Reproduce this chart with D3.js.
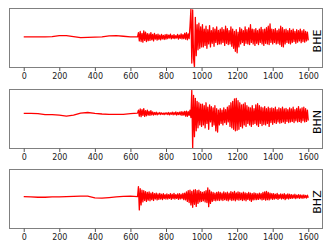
<!DOCTYPE html>
<html>
<head>
<meta charset="utf-8">
<script src="https://cdn.jsdelivr.net/npm/d3@7"></script>
<style>
    body { margin: 0; background: #fff; }
    text { font-family: "DejaVu Sans", sans-serif; }
</style>
</head>
<body>
<div id="chart"></div>
<script>
// channel names, one panel each
var channels = ["BHE", "BHN", "BHZ"];

// x axis ticks (seconds)
var xTicks = [0, 200, 400, 600, 800, 1000, 1200, 1400, 1600];

// sample times: sparse over the quiet part, every 5 s after the first arrival
var quietTimes = d3.range(0, 641, 40);
var noisyTimes = d3.range(645, 1601, 5);
var times = quietTimes.concat(noisyTimes);

// amplitudes, scaled so +-100 fills a panel
var bheQuiet = [4, 4, 4, 4, 5, 8, 8, 5, 1, 2, 3, 4, 7, 8, 6, 4, 4];
var bheNoisy = [
    18, -10, 22, -12, 16, -14, 24, -8, 20, -12, 15, -9,
    14, -8, 18, -6, 12, -10, 16, -4, 11, -7, 13, -5, 10, -6, 12, -3, 9, -5, 11, -4,
    12, -2, 10, 0, 13, -3, 9, -1, 11, -2, 8, 0, 12, -4, 10, -1, 14, -3, 11, -2,
    16, -4, 18, -6, 14, -2, 40, 97, -85, 95, -70, -98, 70, -60, 45, -40, 50, -35, 38, -30,
    45, -30, 30, -25, 40, -35, 28, -20, 42, -30, 25, -18, 35, -28, 30, -15, 38, -22, 26, -20,
    30, -20, 35, -15, 28, -25, 40, -18, 32, -22, 25, -20, 38, -28, 30, -35, 22, -45, 28, -50,
    20, -30, 35, -20, 30, -15, 25, -25, 38, -18, 28, -20, 34, -22, 45, -15, 30, -20, 28, -25,
    32, -18, 25, -22, 30, -15, 36, -20, 28, -25, 30, -18, 35, -20, 40, -22, 48, -15, 30, -20,
    28, -15, 32, -20, 25, -18, 30, -22, 40, -28, 35, -30, 28, -20, 30, -15, 25, -18, 32, -20,
    26, -15, 30, -12, 22, -18, 28, -14, 25, -10, 30, -16, 24, -12, 28, -14, 22, -10, 20, -8
];

var bhnQuiet = [19, 19, 18, 15, 15, 13, 10, 13, 20, 22, 19, 17, 16, 16, 16, 18, 20];
var bhnNoisy = [
    30, 10, 34, 8, 32, 12, 35, 9, 28, 11, 30, 13,
    26, 12, 28, 14, 24, 13, 22, 15, 23, 14, 21, 16, 22, 15, 21, 16, 20, 15, 21, 16,
    21, 15, 22, 14, 21, 16, 23, 14, 22, 15, 24, 13, 22, 15, 23, 14, 25, 12, 24, 13,
    26, 10, 27, 9, 25, 12, 30, 5, 97, -99, 80, -60, 70, -40, 60, -30, 55, -20, 50, -25,
    50, -20, 45, -30, 55, -15, 40, -35, 48, -10, 42, -25, 38, -20, 45, -40, 35, -44, 30, -20,
    35, -15, 30, -20, 38, -12, 32, -18, 40, -10, 45, -25, 55, -30, 60, -35, 68, -40, 70, -38,
    62, -35, 55, -25, 48, -30, 50, -20, 55, -25, 45, -15, 40, -20, 38, -25, 45, -18, 35, -15,
    48, -20, 52, -25, 45, -15, 40, -22, 38, -18, 42, -20, 35, -15, 40, -25, 36, -12, 38, -18,
    35, -12, 40, -15, 32, -10, 38, -14, 35, -12, 40, -10, 34, -15, 36, -8, 32, -12, 38, -10,
    34, -8, 40, -12, 32, -6, 36, -10, 42, -8, 34, -12, 38, -6, 40, -10, 35, -8, 30, -5
];

var bhzQuiet = [8, 7, 6, 6, 7, 7, 8, 9, 10, 10, 4, 3, 5, 7, 9, 10, 8];
var bhzNoisy = [
    42, -37, 35, -20, 30, -10, 28, -5, 25, -8, 22, -4,
    24, -6, 20, -2, 22, -5, 18, 0, 20, -3, 17, -1, 19, 0, 16, -2, 18, 1, 15, 0,
    17, 0, 15, 2, 18, -1, 16, 1, 19, 0, 15, 2, 17, -1, 18, 0, 16, 1, 19, -2,
    20, -3, 24, -8, 28, -12, 30, -20, 26, -28, 30, -18, 32, -25, 28, -15, 30, -10, 25, -8,
    22, -6, 25, -10, 28, -12, 38, -26, 30, -15, 24, -8, 22, -5, 20, -6, 22, -4, 24, -5,
    22, -3, 20, -5, 24, -2, 21, -4, 23, -6, 20, -2, 25, -5, 22, -3, 26, -6, 21, -2,
    24, -4, 22, -2, 20, -5, 23, -3, 21, -6, 19, -1, 22, -4, 20, -8, 18, -3, 21, -2,
    19, -2, 17, -1, 20, 0, 18, -3, 22, -1, 24, -4, 26, -2, 22, -3, 20, 0, 18, -1,
    18, 0, 16, 1, 19, -1, 15, 2, 17, 0, 16, 1, 18, -2, 15, 1, 17, 0, 16, 2,
    15, 2, 14, 3, 16, 1, 13, 4, 15, 2, 14, 3, 13, 2, 14, 4, 12, 3, 13, 4
];

var traces = [
    bheQuiet.concat(bheNoisy),
    bhnQuiet.concat(bhnNoisy),
    bhzQuiet.concat(bhzNoisy)
];

var width = 332, height = 249;
var panelLeft = 9.5, panelRight = 322.5;
var panelTops = [8.5, 89.5, 169.5];
var panelHeight = 59;

var svg = d3.select("#chart").append("svg")
    .attr("width", width)
    .attr("height", height);

var x = d3.scaleLinear().domain([-80, 1680]).range([panelLeft, panelRight]);

channels.forEach(function(name, i) {
    var top = panelTops[i];
    var y = d3.scaleLinear().domain([-100, 100]).range([top + panelHeight, top]);

    var g = svg.append("g");

    // clip so the big spikes stay inside the frame
    svg.append("clipPath").attr("id", "clip" + i)
        .append("rect")
        .attr("x", panelLeft).attr("y", top)
        .attr("width", panelRight - panelLeft).attr("height", panelHeight);

    var line = d3.line()
        .x(function(d, j) { return x(times[j]); })
        .y(function(d) { return y(d); });

    g.append("path")
        .datum(traces[i])
        .attr("clip-path", "url(#clip" + i + ")")
        .attr("fill", "none")
        .attr("stroke", "#ff0000")
        .attr("stroke-width", 1.3)
        .attr("stroke-linejoin", "round")
        .attr("d", line);

    // frame
    g.append("rect")
        .attr("x", panelLeft).attr("y", top)
        .attr("width", panelRight - panelLeft).attr("height", panelHeight)
        .attr("fill", "none")
        .attr("stroke", "#808080")
        .attr("stroke-width", 1);

    // bottom axis, plain integer labels
    var axis = g.append("g")
        .attr("transform", "translate(0," + (top + panelHeight) + ")")
        .call(d3.axisBottom(x).tickValues(xTicks).tickFormat(d3.format("d"))
            .tickSize(3.5).tickPadding(2));
    axis.select(".domain").remove();
    axis.selectAll(".tick line").attr("stroke", "#555");
    axis.selectAll("text")
        .attr("fill", "#222")
        .style("font-size", "8px")
        .style("font-family", "DejaVu Sans");

    // channel label, rotated, inside the right edge
    g.append("text")
        .attr("transform", "translate(320.5," + (top + panelHeight / 2 + 3) + ") rotate(-90)")
        .attr("text-anchor", "middle")
        .attr("fill", "#000")
        .style("font-size", "11px")
        .text(name);
});
</script>
</body>
</html>
